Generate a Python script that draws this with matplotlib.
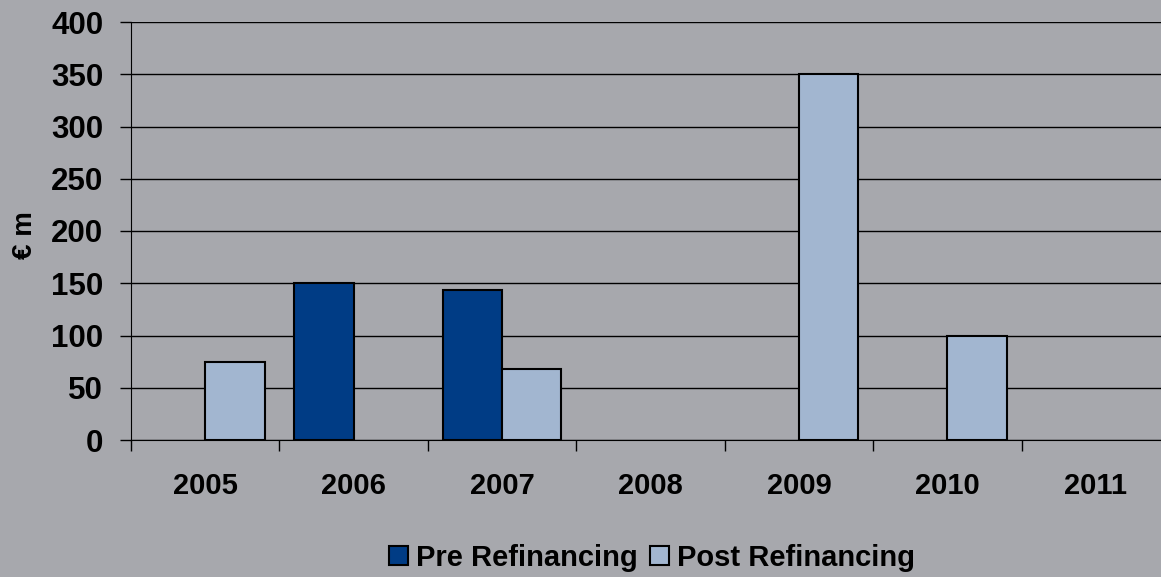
import matplotlib
matplotlib.use("Agg")
import matplotlib.pyplot as plt
import numpy as np
from matplotlib.patches import Patch

years = ["2005", "2006", "2007", "2008", "2009", "2010", "2011"]
pre_refinancing = [0, 150, 144, 0, 0, 0, 0]
post_refinancing = [75, 0, 68, 0, 350, 100, 0]
yticks = [0, 50, 100, 150, 200, 250, 300, 350, 400]

BG = "#A7A8AD"
DARK = "#003C85"
LIGHT = "#A2B6D0"

plt.rcParams['font.family'] = ['Liberation Sans', 'DejaVu Sans']
plt.rcParams['font.weight'] = 'bold'

fig = plt.figure(figsize=(11.61, 5.77), dpi=100, facecolor=BG)
W, H = 1161, 577
left, right, top, bottom = 131, 1170, 22, 440
ax = fig.add_axes([left / W, 1 - bottom / H, (right - left) / W, (bottom - top) / H])
ax.set_facecolor(BG)

x = np.arange(len(years))
w = 0.4
for i in x:
    if pre_refinancing[i] > 0:
        ax.bar(i - w / 2, pre_refinancing[i], w, color=DARK, edgecolor="black", linewidth=1.5, zorder=3)
    if post_refinancing[i] > 0:
        ax.bar(i + w / 2, post_refinancing[i], w, color=LIGHT, edgecolor="black", linewidth=1.5, zorder=3)

ax.set_xlim(-0.5, len(years) - 0.5)
ax.set_ylim(0, 400)
ax.set_yticks(yticks)
ax.set_yticklabels([str(v) for v in yticks], fontsize=22.5, fontweight='bold')
ax.yaxis.grid(True, color="black", linewidth=1, zorder=0)
ax.set_axisbelow(True)

ax.set_xticks(x)
ax.set_xticklabels(years, fontsize=21, fontweight='bold')
ax.set_xticks(np.arange(len(years) + 1) - 0.5, minor=True)
ax.tick_params(axis='x', which='major', length=0, pad=23)
ax.tick_params(axis='x', which='minor', length=8, width=1, direction='out', color='black')
ax.tick_params(axis='y', length=8, width=1, direction='out', pad=12)

for s in ['top', 'right']:
    ax.spines[s].set_visible(False)
ax.spines['left'].set_color('black')
ax.spines['bottom'].set_color('black')

fig.text(25 / W, 1 - 235 / H, "€ m", rotation=90, fontsize=20, fontweight='bold', ha='center', va='center')

handles = [Patch(facecolor=DARK, edgecolor='black', linewidth=1.5, label='Pre Refinancing'),
           Patch(facecolor=LIGHT, edgecolor='black', linewidth=1.5, label='Post Refinancing')]
fig.legend(handles=handles, loc='center', bbox_to_anchor=(652 / W, 1 - 558 / H), ncol=2, frameon=False,
           prop={'size': 21, 'weight': 'bold'}, handlelength=0.65, handleheight=0.65, handletextpad=0.3,
           columnspacing=0.4, borderaxespad=0)

fig.savefig("out.png", dpi=100, facecolor=BG)
